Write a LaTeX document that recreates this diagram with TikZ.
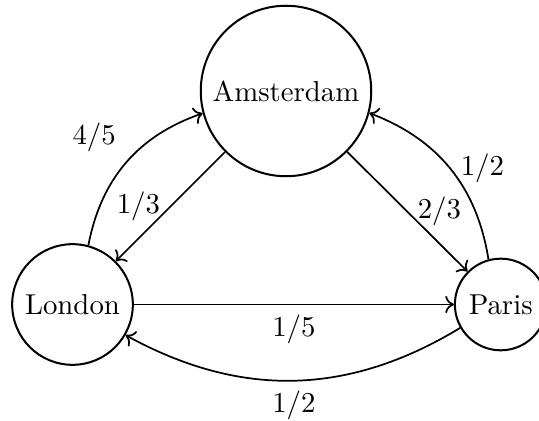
\documentclass[tikz,border=0pt]{standalone}
\usetikzlibrary{arrows.meta}
\begin{document}
\begin{tikzpicture}[x=0.3472pt, y=-0.3472pt,
  city/.style={circle, draw, line width=0.7pt},
  link/.style={-{To[length=3pt, width=6pt]}, line width=0.6pt}]
  \useasboundingbox (0,0) rectangle (539,421);
  \node[city] (ams) at (286,91) {Amsterdam};
  \node[city] (lon) at (72.5,304.5) {London};
  \node[city] (par) at (500.7,304.5) {Paris};

  \draw[link] (ams) -- node[left] {$1/3$} (lon);
  \draw[link] (ams) -- node[right] {$2/3$} (par);
  \draw[link] (lon) -- node[below] {$1/5$} (par);
  \draw[link] (lon) to[bend left] node[above left] {$4/5$} (ams);
  \draw[link] (par) to[bend right] node[right] {$1/2$} (ams);
  \draw[link] (par) to[bend left] node[below] {$1/2$} (lon);
\end{tikzpicture}
\end{document}
